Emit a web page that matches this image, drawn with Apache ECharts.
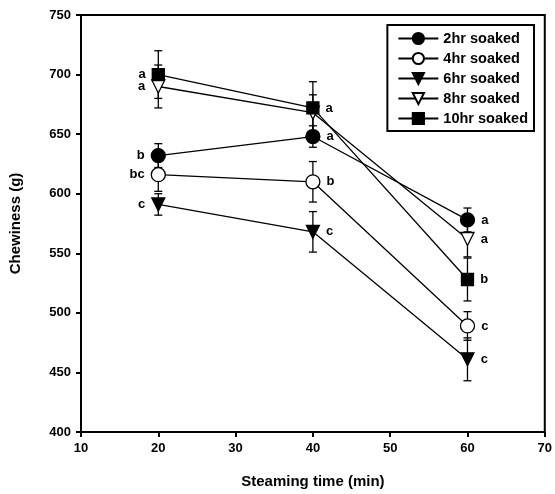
<!DOCTYPE html>
<html>
<head>
<meta charset="utf-8">
<script src="https://cdn.jsdelivr.net/npm/echarts@6/dist/echarts.min.js"></script>
<style>
  html, body {margin: 0; padding: 0; background: #fff;}
  #chart {width: 555px; height: 494px;}
</style>
</head>
<body>
<div id="chart"></div>
<script>
// steaming time (min)
var times = [20, 40, 60];
var xTicks = [10, 20, 30, 40, 50, 60, 70];
var yTicks = [400, 450, 500, 550, 600, 650, 700, 750];

var names = ['2hr soaked', '4hr soaked', '6hr soaked', '8hr soaked', '10hr soaked'];
var soak2 = [632, 648, 578];
var soak4 = [616, 610, 489];
var soak6 = [591, 568, 461];
var soak8 = [690, 668, 562];
var soak10 = [700, 672, 528];

var err2 = [10, 9, 10];
var err4 = [14, 17, 12];
var err6 = [9, 17, 18];
var err8 = [18, 15, 15];
var err10 = [20, 22, 18];

// significance letters (8hr @40 hidden behind the 10hr one in the original)
var let2 = ['b', 'a', 'a'];
var let4 = ['bc', 'b', 'c'];
var let6 = ['c', 'c', 'c'];
var let8 = ['a', '', 'a'];
var let10 = ['a', 'a', 'b'];

var font = 'Liberation Sans, Arial, sans-serif';

function lineSeries(name, vals, letters, symbol, filled, rotate, size) {
  return {
    name: name,
    type: 'line',
    z: 5,
    data: times.map(function (t, i) {
      return {
        value: [t, vals[i]],
        label: {
          show: letters[i] !== '',
          position: i === 0 ? 'left' : 'right',
          distance: 6,
          formatter: letters[i]
        }
      };
    }),
    symbol: symbol,
    symbolSize: size,
    symbolRotate: rotate,
    lineStyle: {color: '#000', width: 1.3},
    itemStyle: {color: filled ? '#000' : '#fff', borderColor: '#000', borderWidth: 1.3},
    label: {color: '#000', fontFamily: font, fontWeight: 'bold', fontSize: 13},
    emphasis: {disabled: true}
  };
}

function errSeries(vals, errs) {
  return {
    type: 'custom',
    z: 2,
    silent: true,
    data: times.map(function (t, i) { return [t, vals[i] - errs[i], vals[i] + errs[i]]; }),
    renderItem: function (params, api) {
      var lo = api.coord([api.value(0), api.value(1)]);
      var hi = api.coord([api.value(0), api.value(2)]);
      var w = 4;
      var st = {stroke: '#000', lineWidth: 1.3};
      return {
        type: 'group',
        children: [
          {type: 'line', shape: {x1: lo[0], y1: lo[1], x2: hi[0], y2: hi[1]}, style: st},
          {type: 'line', shape: {x1: lo[0] - w, y1: lo[1], x2: lo[0] + w, y2: lo[1]}, style: st},
          {type: 'line', shape: {x1: hi[0] - w, y1: hi[1], x2: hi[0] + w, y2: hi[1]}, style: st}
        ]
      };
    }
  };
}

var chart = echarts.init(document.getElementById('chart'));
chart.setOption({
  animation: false,
  grid: {left: 76, right: 9, top: 15, bottom: 61, show: true, borderColor: '#000', borderWidth: 2},
  legend: {
    data: names,
    orient: 'vertical',
    right: 21,
    top: 25,
    itemWidth: 40,
    itemHeight: 14,
    itemGap: 5,
    padding: [6, 6, 5, 10],
    borderColor: '#000',
    borderWidth: 2,
    backgroundColor: '#fff',
    textStyle: {color: '#000', fontFamily: font, fontWeight: 'bold', fontSize: 14.5}
  },
  xAxis: {
    type: 'value',
    min: 10, max: 70, interval: 10,
    name: 'Steaming time (min)',
    nameLocation: 'middle',
    nameGap: 42,
    nameTextStyle: {color: '#000', fontFamily: font, fontWeight: 'bold', fontSize: 15},
    axisLine: {show: true, onZero: false, lineStyle: {color: '#000', width: 2}},
    axisTick: {show: true, length: 5, lineStyle: {color: '#000', width: 2}},
    axisLabel: {color: '#000', fontFamily: font, fontWeight: 'bold', fontSize: 13, margin: 10,
      formatter: function (v) { return xTicks.indexOf(v) >= 0 ? String(v) : ''; }},
    splitLine: {show: false}
  },
  yAxis: {
    type: 'value',
    min: 400, max: 750, interval: 50,
    name: 'Chewiness (g)',
    nameLocation: 'middle',
    nameGap: 58,
    nameTextStyle: {color: '#000', fontFamily: font, fontWeight: 'bold', fontSize: 15},
    axisLine: {show: true, onZero: false, lineStyle: {color: '#000', width: 2}},
    axisTick: {show: true, length: 5, lineStyle: {color: '#000', width: 2}},
    axisLabel: {color: '#000', fontFamily: font, fontWeight: 'bold', fontSize: 13, margin: 10,
      formatter: function (v) { return yTicks.indexOf(v) >= 0 ? String(v) : ''; }},
    splitLine: {show: false}
  },
  series: [
    errSeries(soak2, err2),
    errSeries(soak4, err4),
    errSeries(soak6, err6),
    errSeries(soak8, err8),
    errSeries(soak10, err10),
    lineSeries(names[0], soak2, let2, 'circle', true, 0, 14),
    lineSeries(names[1], soak4, let4, 'circle', false, 0, 14),
    lineSeries(names[2], soak6, let6, 'triangle', true, 180, 13),
    lineSeries(names[3], soak8, let8, 'triangle', false, 180, 13),
    lineSeries(names[4], soak10, let10, 'rect', true, 0, 12)
  ]
});
</script>
</body>
</html>
